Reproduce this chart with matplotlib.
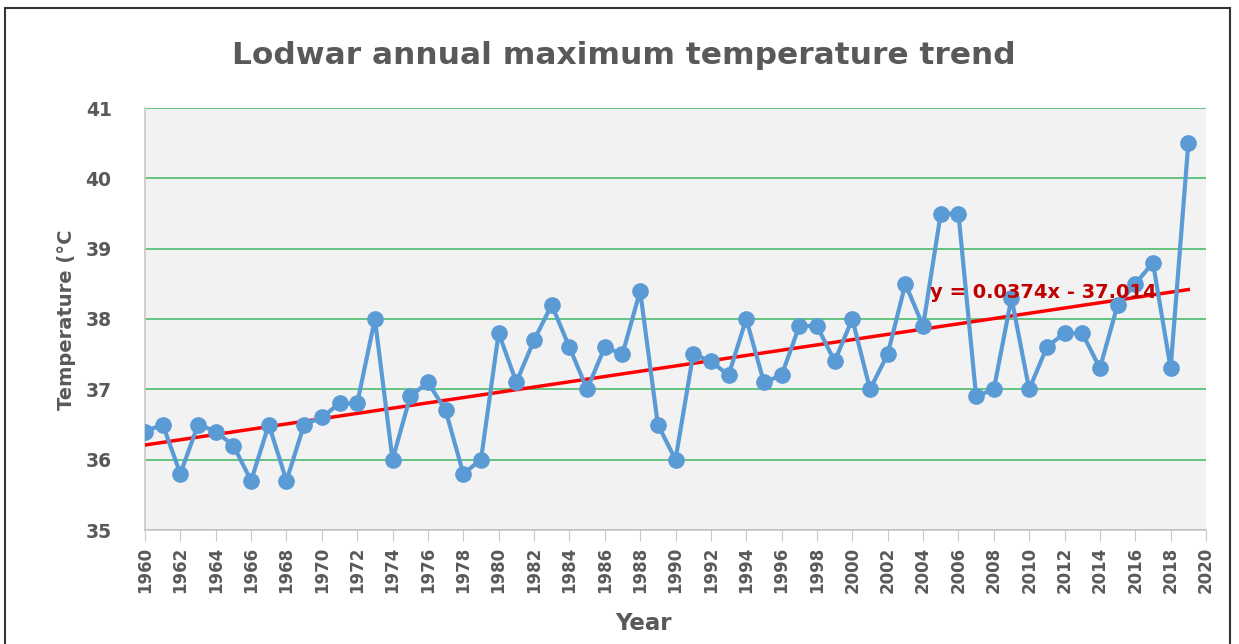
import numpy as np
import matplotlib.pyplot as plt
from matplotlib.patches import Rectangle

# Lodwar annual maximum temperature
years = list(range(1960, 2020))
tmax = [36.4, 36.5, 35.8, 36.5, 36.4, 36.2, 35.7, 36.5, 35.7, 36.5,
        36.6, 36.8, 36.8, 38.0, 36.0, 36.9, 37.1, 36.7, 35.8, 36.0,
        37.8, 37.1, 37.7, 38.2, 37.6, 37.0, 37.6, 37.5, 38.4, 36.5,
        36.0, 37.5, 37.4, 37.2, 38.0, 37.1, 37.2, 37.9, 37.9, 37.4,
        38.0, 37.0, 37.5, 38.5, 37.9, 39.5, 39.5, 36.9, 37.0, 38.3,
        37.0, 37.6, 37.8, 37.8, 37.3, 38.2, 38.5, 38.8, 37.3, 40.5]
xticks = list(range(1960, 2021, 2))
yticks = [35, 36, 37, 38, 39, 40, 41]
trend_label = 'y = 0.0374x - 37.014'

grey = '#595959'
plt.rcParams['font.family'] = ['DejaVu Sans']

fig = plt.figure(figsize=(12.39, 6.44), dpi=100)

# frame round the chart area
fig.patches.append(Rectangle((5 / 1239, -0.01), 1225 / 1239, 1 - 8 / 644 + 0.01,
                             transform=fig.transFigure, fill=False,
                             edgecolor='#333333', linewidth=1.5))

ax = fig.add_axes([145 / 1239, 1 - 530 / 644, (1206 - 145) / 1239, (530 - 108) / 644])
ax.set_facecolor('#f2f2f2')

# trend line from least squares fit
coef = np.polyfit(years, tmax, 1)
ax.plot([years[0], years[-1]], np.polyval(coef, [years[0], years[-1]]),
        color='#ff0000', linewidth=2.5, zorder=3)

ax.plot(years, tmax, color='#5b9bd5', linewidth=3, marker='o', markersize=11,
        zorder=4)

ax.text(2004.4, 38.38, trend_label, color='#c00000', fontsize=14,
        fontweight='bold', ha='left', va='center', zorder=5)

ax.set_xlim(1960, 2020)
ax.set_ylim(35, 41)
ax.set_xticks(xticks)
ax.set_xticklabels([str(x) for x in xticks], rotation=90)
ax.set_yticks(yticks)
ax.grid(axis='y', color='#4cbb6c', linewidth=1.2)
ax.set_axisbelow(True)

for s in ['top', 'right']:
    ax.spines[s].set_visible(False)
for s in ['left', 'bottom']:
    ax.spines[s].set_color('#c8c8c8')
    ax.spines[s].set_linewidth(1.2)

ax.tick_params(axis='x', direction='out', length=8, color='#c8c8c8',
               labelsize=12, labelcolor=grey, pad=4)
ax.tick_params(axis='y', length=0, labelsize=13.5, labelcolor=grey, pad=24)
for lbl in ax.get_xticklabels() + ax.get_yticklabels():
    lbl.set_fontweight('bold')

fig.text(66 / 1239, 1 - 320 / 644, 'Temperature (°C', rotation=90, ha='center',
         va='center', fontsize=14, fontweight='bold', color=grey)
fig.text(643 / 1239, 1 - 623 / 644, 'Year', ha='center', va='center',
         fontsize=16.5, fontweight='bold', color=grey)
fig.text(624 / 1239, 1 - 55 / 644, 'Lodwar annual maximum temperature trend',
         ha='center', va='center', fontsize=22.5, fontweight='bold', color=grey)

fig.savefig('out.png', dpi=100)
